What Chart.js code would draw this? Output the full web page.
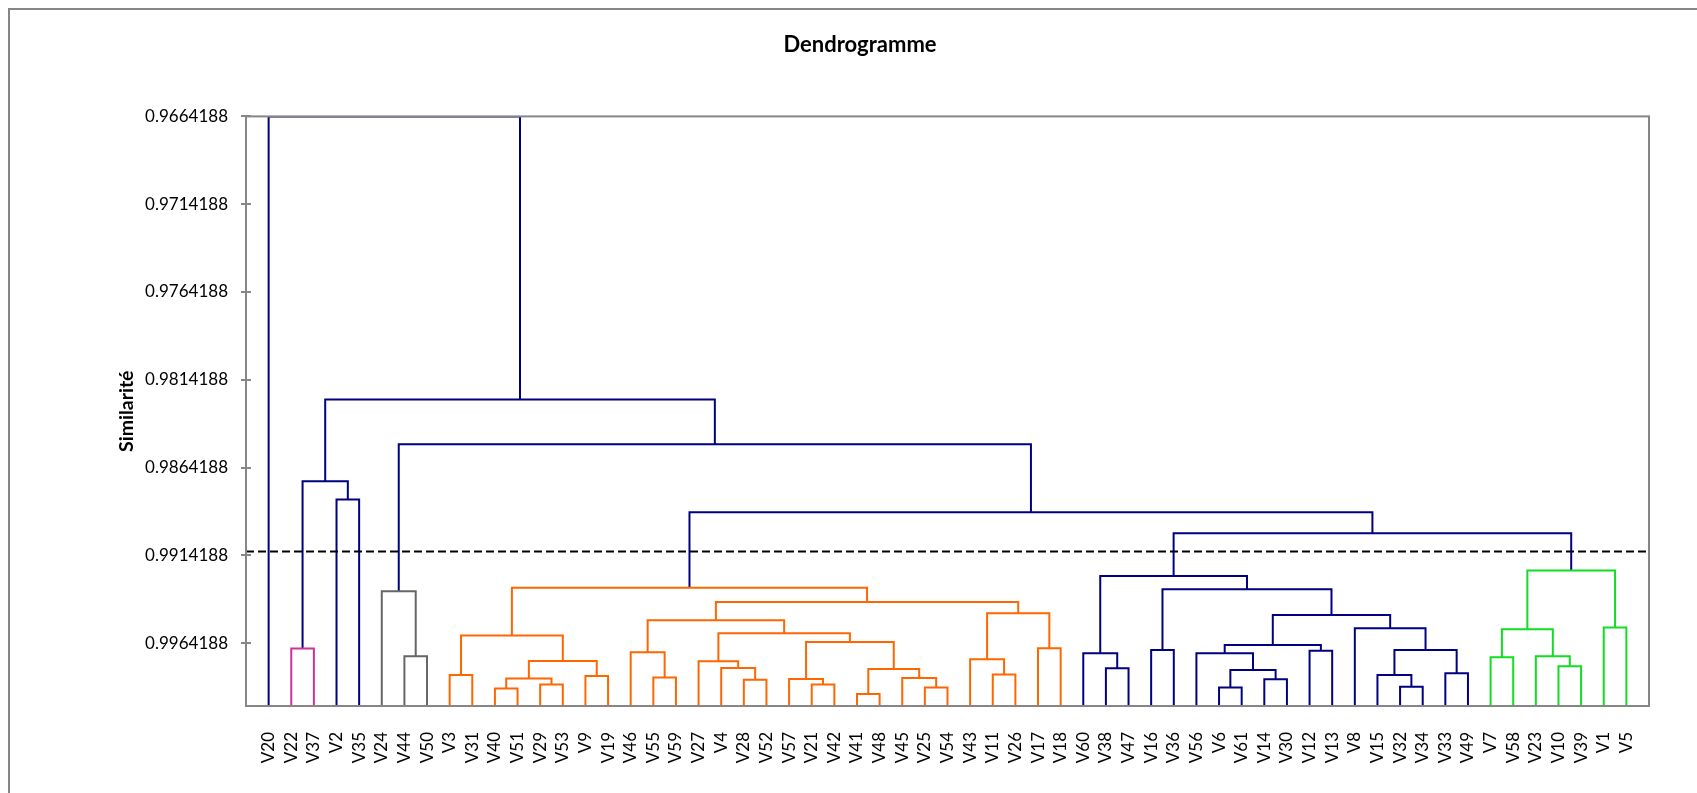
<!DOCTYPE html>
<html>
<head>
<meta charset="utf-8">
<title>Dendrogramme</title>
<script src="https://cdn.jsdelivr.net/npm/chart.js@4.4.1/dist/chart.umd.min.js"></script>
<style>
    body { margin: 0; background: #fff; }
    canvas { display: block; }
</style>
</head>
<body>
<canvas id="dendroChart" width="1697" height="793"></canvas>
<script>
// Leaf order along the x axis
const leaves = ['V20', 'V22', 'V37', 'V2', 'V35', 'V24', 'V44', 'V50', 'V3', 'V31',
    'V40', 'V51', 'V29', 'V53', 'V9', 'V19', 'V46', 'V55', 'V59', 'V27',
    'V4', 'V28', 'V52', 'V57', 'V21', 'V42', 'V41', 'V48', 'V45', 'V25',
    'V54', 'V43', 'V11', 'V26', 'V17', 'V18', 'V60', 'V38', 'V47', 'V16',
    'V36', 'V56', 'V6', 'V61', 'V14', 'V30', 'V12', 'V13', 'V8', 'V15',
    'V32', 'V34', 'V33', 'V49', 'V7', 'V58', 'V23', 'V10', 'V39', 'V1', 'V5'];

// Merges: a child is a leaf name or the index of an earlier merge
const mergeLeft = ['V22', 'V2', 0, 'V44', 'V24', 'V3', 'V40', 'V29', 6, 'V9',
    8, 5, 'V55', 'V46', 'V28', 'V4', 'V27', 'V21', 'V57', 'V41',
    'V25', 'V45', 19, 18, 16, 13, 'V11', 'V43', 'V17', 27,
    25, 11, 'V38', 'V60', 'V16', 'V6', 'V14', 35, 'V56', 'V12',
    38, 'V32', 'V15', 'V33', 42, 'V8', 40, 34, 33, 'V7',
    'V10', 'V23', 49, 'V1', 52, 48, 31, 4, 2, 'V20'];
const mergeRight = ['V37', 'V35', 1, 'V50', 3, 'V31', 'V51', 'V53', 7, 'V19',
    9, 10, 'V59', 12, 'V52', 14, 15, 'V42', 17, 'V48',
    'V54', 20, 21, 22, 23, 24, 'V26', 26, 'V18', 28,
    29, 30, 'V47', 32, 'V36', 'V61', 'V30', 36, 37, 'V13',
    39, 'V34', 41, 'V49', 43, 44, 45, 46, 47, 'V58',
    'V39', 50, 51, 'V5', 53, 54, 55, 56, 57, 58];
const mergeLevel = [0.99673, 0.98824, 0.98720, 0.99717, 0.99347, 0.99823, 0.99900, 0.99877, 0.99843, 0.99829,
    0.99744, 0.99598, 0.99838, 0.99694, 0.99850, 0.99783, 0.99745, 0.99878, 0.99846, 0.99932,
    0.99895, 0.99840, 0.99789, 0.99635, 0.99586, 0.99512, 0.99821, 0.99734, 0.99671, 0.99472,
    0.99407, 0.99326, 0.99785, 0.99700, 0.99681, 0.99894, 0.99848, 0.99795, 0.99700, 0.99686,
    0.99652, 0.99890, 0.99823, 0.99814, 0.99681, 0.99557, 0.99481, 0.99335, 0.99259, 0.99723,
    0.99774, 0.99717, 0.99563, 0.99553, 0.99228, 0.99016, 0.98896, 0.98509, 0.98254, 0.9664188];

// Truncation level (dashed line) and axis ticks
const cutLevel = 0.9912;
const yTicks = [0.9664188, 0.9714188, 0.9764188, 0.9814188, 0.9864188, 0.9914188, 0.9964188];
const yMin = 0.9664188;
const yMax = 1;

// Styles
const linkColor = '#000080';
const classColors = ['#CC3399', '#666666', '#FF6600', '#000080', '#11DD22'];
const axisColor = '#868686';

// Position and level of any child
function childX(c) {
    return typeof c === 'string' ? leaves.indexOf(c) + 1 : nodeX[c];
}
function childLevel(c) {
    return typeof c === 'string' ? yMax : mergeLevel[c];
}

const nodeX = [];
const parentOf = [];
mergeLevel.forEach((lvl, i) => {
    nodeX[i] = (childX(mergeLeft[i]) + childX(mergeRight[i])) / 2;
    [mergeLeft[i], mergeRight[i]].forEach(c => {
        if (typeof c === 'number') parentOf[c] = i;
    });
});

// Class of each merge below the cut: walk up to the highest merge still under the line
const classRoot = mergeLevel.map((lvl, i) => {
    if (lvl < cutLevel) return -1;
    let r = i;
    while (parentOf[r] !== undefined && mergeLevel[parentOf[r]] >= cutLevel) r = parentOf[r];
    return r;
});
const roots = [...new Set(classRoot.filter(r => r >= 0))].sort((a, b) => nodeX[a] - nodeX[b]);

const datasets = [{
    data: [{ x: 0, y: cutLevel }, { x: leaves.length + 1, y: cutLevel }],
    borderColor: '#000',
    borderWidth: 2,
    borderDash: [8, 4]
}];

mergeLevel.forEach((lvl, i) => {
    const l = mergeLeft[i], r = mergeRight[i];
    datasets.push({
        data: [
            { x: childX(l), y: childLevel(l) },
            { x: childX(l), y: lvl },
            { x: childX(r), y: lvl },
            { x: childX(r), y: childLevel(r) }
        ],
        borderColor: classRoot[i] < 0 ? linkColor : classColors[roots.indexOf(classRoot[i])],
        borderWidth: 2
    });
});

// Outer frame, plot border and crossing tick marks
const framePlugin = {
    id: 'frame',
    beforeDraw(chart) {
        const ctx = chart.ctx;
        ctx.save();
        ctx.strokeStyle = axisColor;
        ctx.lineWidth = 2;
        ctx.beginPath();
        ctx.moveTo(9, chart.height + 5);
        ctx.lineTo(9, 9);
        ctx.lineTo(chart.width + 5, 9);
        ctx.stroke();
        ctx.restore();
    },
    afterDraw(chart) {
        const ctx = chart.ctx;
        const area = chart.chartArea;
        const y = chart.scales.y;
        ctx.save();
        ctx.strokeStyle = axisColor;
        ctx.lineWidth = 2;
        ctx.strokeRect(area.left, area.top, area.right - area.left, area.bottom - area.top);
        y.ticks.forEach(t => {
            const py = Math.round(y.getPixelForValue(t.value));
            ctx.beginPath();
            ctx.moveTo(area.left - 5, py);
            ctx.lineTo(area.left + 5, py);
            ctx.stroke();
        });
        ctx.restore();
    }
};

Chart.defaults.font.family = 'Lato, "Noto Sans", sans-serif';
Chart.defaults.color = '#000';

new Chart(document.getElementById('dendroChart'), {
    type: 'scatter',
    data: { datasets: datasets },
    options: {
        responsive: false,
        animation: false,
        showLine: true,
        elements: {
            point: { radius: 0, hoverRadius: 0 },
            line: { tension: 0, fill: false }
        },
        layout: { padding: { left: 71, right: 48, top: 0, bottom: 0 } },
        plugins: {
            legend: { display: false },
            tooltip: { enabled: false },
            title: {
                display: true,
                text: 'Dendrogramme',
                font: { size: 22, weight: 'bold' },
                color: '#000',
                padding: { top: 32, bottom: 58 }
            }
        },
        scales: {
            x: {
                type: 'linear',
                min: 0,
                max: leaves.length + 1,
                grid: { display: false, drawTicks: false },
                border: { color: axisColor, width: 2 },
                afterBuildTicks: scale => {
                    scale.ticks = leaves.map((_, i) => ({ value: i + 1 }));
                },
                afterFit: scale => { scale.height = 87; },
                ticks: {
                    autoSkip: false,
                    minRotation: 90,
                    maxRotation: 90,
                    padding: 26,
                    font: { size: 17 },
                    callback: v => leaves[v - 1]
                }
            },
            y: {
                type: 'linear',
                reverse: true,
                min: yMin,
                max: yMax,
                grid: { display: false, drawTicks: false },
                border: { color: axisColor, width: 2 },
                afterBuildTicks: scale => {
                    scale.ticks = yTicks.map(v => ({ value: v }));
                },
                afterFit: scale => { scale.width = 175; },
                ticks: {
                    padding: 18,
                    font: { size: 17 },
                    callback: v => v.toFixed(7)
                },
                title: {
                    display: true,
                    text: 'Similarité',
                    font: { size: 19.5, weight: 'bold' },
                    color: '#000',
                    padding: { top: 44 }
                }
            }
        }
    },
    plugins: [framePlugin]
});
</script>
</body>
</html>
